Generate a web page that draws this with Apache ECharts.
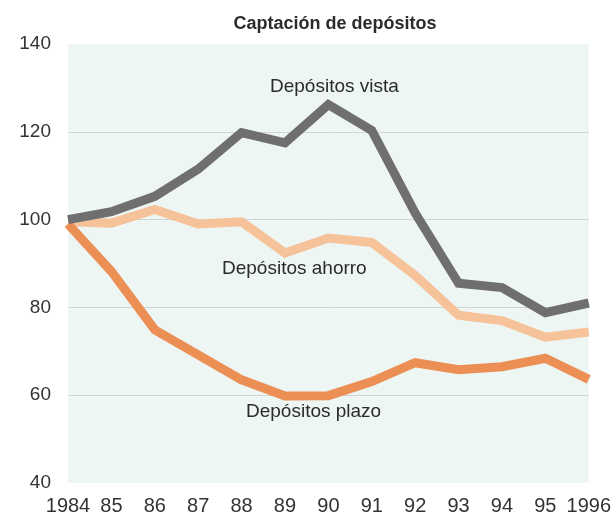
<!DOCTYPE html>
<html>
<head>
<meta charset="utf-8">
<script src="https://cdn.jsdelivr.net/npm/echarts@6/dist/echarts.min.js"></script>
<style>
  html, body { margin: 0; padding: 0; background: #fff; }
  #chart { width: 614px; height: 517px; }
</style>
</head>
<body>
<div id="chart"></div>
<script>
// años (eje x)
var years = ['1984', '85', '86', '87', '88', '89', '90', '91', '92', '93', '94', '95', '1996'];

// índices, 1984 = 100
var vista  = [100, 101.8, 105.3, 111.5, 119.8, 117.5, 126.2, 120.3, 101.5, 85.5, 84.5, 78.8, 81];
var ahorro = [99.5, 99.2, 102.3, 99, 99.5, 92.4, 95.8, 94.8, 87.3, 78.2, 77, 73.2, 74.4];
var plazo  = [99, 88.2, 74.9, 69.2, 63.5, 59.8, 59.9, 63.1, 67.4, 65.8, 66.5, 68.4, 63.6];

var yTicks = [40, 60, 80, 100, 120, 140];

var chart = echarts.init(document.getElementById('chart'));

var font = 'Liberation Sans, Arial, sans-serif';

function lineSerie(name, data, color, z) {
  return {
    name: name,
    type: 'line',
    data: data,
    symbol: 'none',
    z: z,
    lineStyle: { color: color, width: 9, join: 'miter', cap: 'butt' }
  };
}

chart.setOption({
  backgroundColor: '#fff',
  animation: false,
  textStyle: { fontFamily: font },
  title: {
    text: 'Captación de depósitos',
    left: 330,
    top: 10,
    textAlign: 'center',
    textStyle: { fontSize: 18, fontWeight: 'bold', color: '#2b2b2b' }
  },
  grid: {
    left: 68,
    right: 24,
    top: 44,
    bottom: 34,
    show: true,
    backgroundColor: '#eef6f4',
    borderWidth: 0
  },
  xAxis: {
    type: 'category',
    data: years,
    boundaryGap: false,
    axisLine: { show: false },
    axisTick: { show: false },
    axisLabel: { color: '#333', fontSize: 20, margin: 13, interval: 0 },
    splitLine: { show: false }
  },
  yAxis: {
    type: 'value',
    min: yTicks[0],
    max: yTicks[yTicks.length - 1],
    interval: 20,
    axisLine: { show: false },
    axisTick: { show: false },
    axisLabel: { color: '#333', fontSize: 19, margin: 17 },
    splitLine: {
      show: true,
      showMinLine: false,
      showMaxLine: false,
      lineStyle: { color: '#cfd6d5', width: 1 }
    }
  },
  graphic: [
    { type: 'text', left: 270, top: 77, style: { text: 'Depósitos vista', fontSize: 19, fill: '#2b2b2b', fontFamily: font } },
    { type: 'text', left: 222, top: 259, style: { text: 'Depósitos ahorro', fontSize: 19, fill: '#2b2b2b', fontFamily: font } },
    { type: 'text', left: 246, top: 402, style: { text: 'Depósitos plazo', fontSize: 19, fill: '#2b2b2b', fontFamily: font } }
  ],
  series: [
    lineSerie('Depósitos ahorro', ahorro, '#f6c29a', 2),
    lineSerie('Depósitos plazo', plazo, '#eb8f55', 3),
    lineSerie('Depósitos vista', vista, '#6f6f70', 4)
  ]
});

window.addEventListener('resize', function () {
  chart.resize();
});
</script>
</body>
</html>
